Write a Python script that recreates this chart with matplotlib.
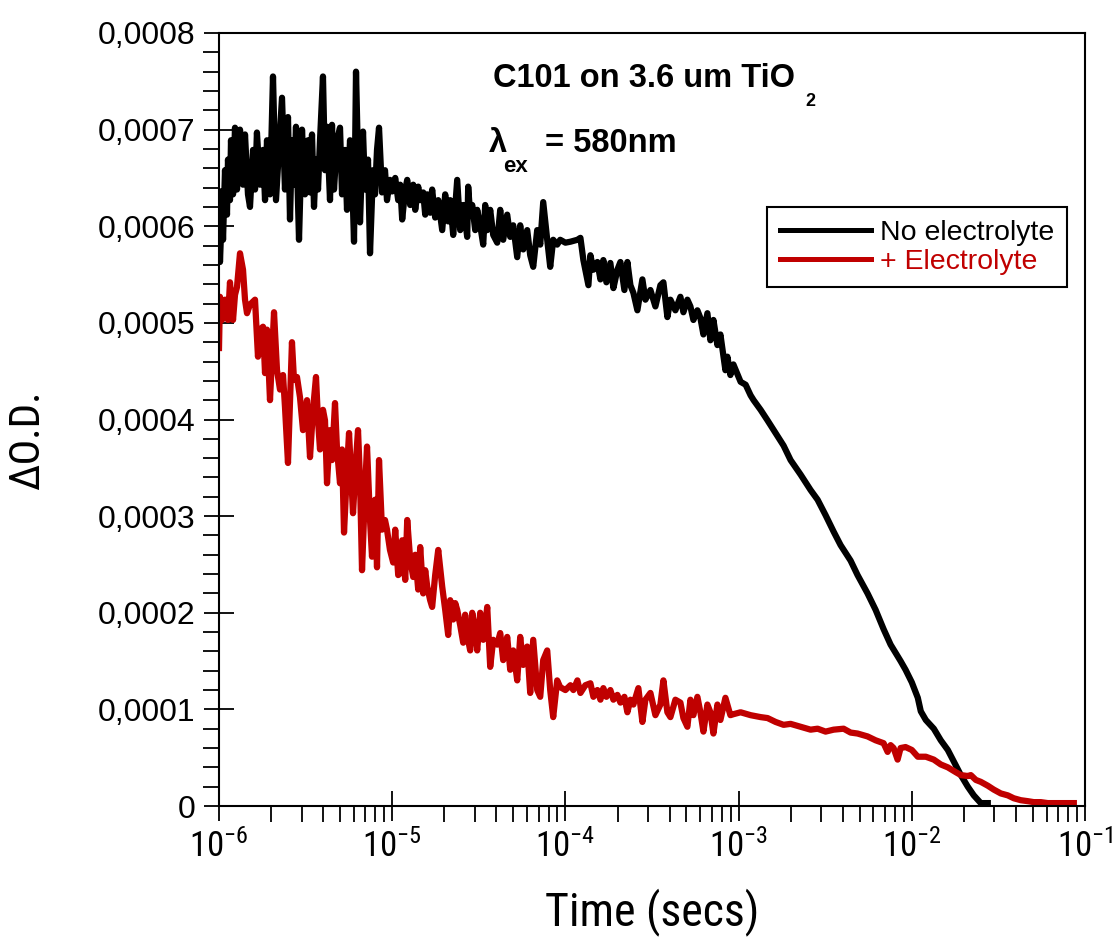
import numpy as np
import matplotlib
matplotlib.use("Agg")
import matplotlib.pyplot as plt
from matplotlib import font_manager
from matplotlib.ticker import MultipleLocator, LogLocator, NullFormatter, FuncFormatter

# --- data (time in s, dOD in units of 1e-4) ---
t_noel = [
    1.000e-6, 1.013e-6, 1.041e-6, 1.055e-6, 1.083e-6, 1.112e-6, 1.127e-6, 1.157e-6, 1.173e-6, 1.205e-6,
    1.237e-6, 1.270e-6, 1.322e-6, 1.376e-6, 1.413e-6, 1.470e-6, 1.510e-6, 1.572e-6, 1.614e-6, 1.656e-6,
    1.725e-6, 1.795e-6, 1.844e-6, 1.893e-6, 1.970e-6, 2.050e-6, 2.133e-6, 2.220e-6, 2.311e-6, 2.404e-6,
    2.502e-6, 2.570e-6, 2.638e-6, 2.710e-6, 2.783e-6, 2.897e-6, 3.015e-6, 3.137e-6, 3.265e-6, 3.353e-6,
    3.443e-6, 3.536e-6, 3.631e-6, 3.730e-6, 3.830e-6, 3.984e-6, 4.093e-6, 4.204e-6, 4.374e-6, 4.492e-6,
    4.613e-6, 4.801e-6, 4.997e-6, 5.132e-6, 5.340e-6, 5.484e-6, 5.708e-6, 5.862e-6, 6.019e-6, 6.181e-6,
    6.348e-6, 6.519e-6, 6.784e-6, 6.967e-6, 7.250e-6, 7.446e-6, 7.748e-6, 7.957e-6, 8.171e-6, 8.392e-6,
    8.733e-6, 9.086e-6, 9.331e-6, 9.708e-6, 1.000e-5,
    1.041e-5, 1.083e-5, 1.112e-5, 1.142e-5, 1.189e-5, 1.221e-5, 1.270e-5, 1.322e-5, 1.358e-5, 1.413e-5,
    1.451e-5, 1.510e-5, 1.551e-5, 1.593e-5, 1.656e-5, 1.701e-5, 1.771e-5, 1.844e-5, 1.944e-5, 2.023e-5,
    2.105e-5, 2.162e-5, 2.250e-5, 2.373e-5, 2.470e-5, 2.570e-5, 2.638e-5, 2.710e-5, 2.746e-5, 2.820e-5,
    2.897e-5, 3.015e-5, 3.096e-5, 3.222e-5, 3.353e-5, 3.443e-5, 3.537e-5, 3.680e-5, 3.830e-5, 4.039e-5,
    4.204e-5, 4.374e-5, 4.613e-5, 4.801e-5, 4.997e-5, 5.270e-5, 5.484e-5, 5.708e-5, 6.019e-5, 6.264e-5,
    6.519e-5, 6.874e-5, 7.155e-5, 7.446e-5, 7.852e-5, 8.171e-5, 8.503e-5, 8.966e-5, 9.331e-5, 1.000e-4,
    1.069e-4, 1.173e-4, 1.221e-4, 1.270e-4, 1.358e-4, 1.394e-4, 1.451e-4, 1.530e-4, 1.593e-4, 1.656e-4,
    1.725e-4, 1.818e-4, 1.893e-4, 1.996e-4, 2.078e-4, 2.191e-4, 2.280e-4, 2.373e-4, 2.470e-4, 2.604e-4,
    2.783e-4, 2.897e-4, 3.096e-4, 3.309e-4, 3.536e-4, 3.680e-4, 3.880e-4, 4.039e-4, 4.316e-4, 4.613e-4,
    4.801e-4, 5.062e-4, 5.270e-4, 5.484e-4, 5.782e-4, 6.019e-4, 6.264e-4, 6.605e-4, 6.874e-4, 7.155e-4,
    7.545e-4, 7.852e-4, 8.392e-4, 8.616e-4, 8.966e-4, 9.331e-4,
    1.027e-3, 1.098e-3, 1.173e-3, 1.221e-3, 1.340e-3, 1.470e-3, 1.635e-3, 1.818e-3, 1.996e-3, 2.280e-3,
    2.604e-3, 2.858e-3, 3.178e-3, 3.536e-3, 3.880e-3, 4.431e-3, 4.862e-3, 5.554e-3, 6.181e-3, 6.874e-3,
    7.545e-3, 8.616e-3, 9.204e-3,
    1.000e-2, 1.083e-2, 1.127e-2, 1.205e-2, 1.340e-2, 1.470e-2, 1.614e-2, 1.795e-2, 1.919e-2, 2.105e-2,
    2.280e-2, 2.502e-2, 2.746e-2,
]
od_noel = [
    6.36, 5.63, 6.22, 5.86, 6.58, 6.12, 6.69, 6.27, 6.89, 6.33,
    7.02, 6.38, 7.00, 6.43, 6.95, 6.33, 6.20, 6.79, 6.38, 6.97,
    6.43, 6.79, 6.27, 6.89, 6.33, 7.55, 6.27, 6.79, 7.33, 6.38,
    7.13, 6.07, 6.89, 6.43, 7.03, 5.86, 7.00, 6.33, 6.89, 6.35,
    6.95, 6.20, 6.69, 6.38, 6.89, 7.55, 6.58, 7.03, 6.27, 7.05,
    6.38, 6.89, 7.02, 6.33, 6.79, 6.17, 6.89, 6.53, 5.84, 7.60,
    6.69, 6.04, 6.98, 6.38, 6.69, 5.72, 6.58, 6.33, 6.79, 7.02,
    6.35, 6.58, 6.27, 6.48, 6.36,
    6.50, 6.27, 6.43, 6.07, 6.38, 6.48, 6.22, 6.43, 6.17, 6.41,
    6.27, 6.35, 6.12, 6.33, 6.14, 6.38, 6.09, 6.27, 5.96, 6.33,
    6.05, 6.27, 5.91, 6.48, 5.96, 6.22, 6.07, 5.89, 6.41, 6.12,
    6.22, 5.96, 6.17, 6.01, 5.81, 6.22, 5.96, 6.17, 5.91, 5.83,
    6.17, 5.86, 6.12, 5.89, 6.01, 5.68, 6.01, 5.76, 5.96, 5.70,
    5.58, 5.96, 5.81, 6.25, 5.86, 5.58, 5.86, 5.81, 5.86, 5.83,
    5.84, 5.86, 5.88, 5.65, 5.39, 5.70, 5.55, 5.63, 5.45, 5.65,
    5.42, 5.62, 5.36, 5.55, 5.63, 5.34, 5.63, 5.39, 5.31, 5.13,
    5.45, 5.24, 5.34, 5.17, 5.39, 5.42, 5.06, 5.24, 5.13, 5.27,
    5.11, 5.24, 5.17, 5.03, 5.13, 5.05, 4.88, 5.10, 4.82, 5.03,
    4.77, 4.88, 4.51, 4.65, 4.46, 4.57,
    4.39, 4.36, 4.25, 4.20, 4.10, 3.99, 3.86, 3.73, 3.58, 3.43,
    3.27, 3.17, 3.01, 2.84, 2.70, 2.54, 2.39, 2.20, 2.03, 1.83,
    1.67, 1.50, 1.41,
    1.28, 1.12, 0.98, 0.89, 0.80, 0.68, 0.58, 0.42, 0.32, 0.20,
    0.11, 0.03, 0.03,
]

t_el = [
    1.000e-6, 1.013e-6, 1.041e-6, 1.083e-6, 1.127e-6, 1.157e-6, 1.205e-6, 1.237e-6, 1.270e-6, 1.322e-6,
    1.376e-6, 1.413e-6, 1.451e-6, 1.510e-6, 1.614e-6, 1.679e-6, 1.725e-6, 1.795e-6, 1.844e-6, 1.893e-6,
    1.970e-6, 2.078e-6, 2.162e-6, 2.250e-6, 2.342e-6, 2.404e-6, 2.502e-6, 2.638e-6, 2.710e-6, 2.820e-6,
    2.935e-6, 3.055e-6, 3.222e-6, 3.353e-6, 3.490e-6, 3.631e-6, 3.730e-6, 3.830e-6, 3.984e-6, 4.093e-6,
    4.204e-6, 4.374e-6, 4.492e-6, 4.675e-6, 4.801e-6, 4.997e-6, 5.132e-6, 5.270e-6, 5.484e-6, 5.633e-6,
    5.940e-6, 6.181e-6, 6.348e-6, 6.519e-6, 6.695e-6, 6.967e-6, 7.155e-6, 7.446e-6, 7.646e-6, 7.957e-6,
    8.171e-6, 8.392e-6, 8.733e-6, 9.086e-6, 9.331e-6, 9.708e-6,
    1.013e-5, 1.041e-5, 1.083e-5, 1.112e-5, 1.142e-5, 1.189e-5, 1.221e-5, 1.270e-5, 1.322e-5, 1.358e-5,
    1.413e-5, 1.451e-5, 1.510e-5, 1.551e-5, 1.593e-5, 1.656e-5, 1.701e-5, 1.771e-5, 1.844e-5, 1.944e-5,
    2.023e-5, 2.105e-5, 2.162e-5, 2.250e-5, 2.311e-5, 2.373e-5, 2.470e-5, 2.570e-5, 2.638e-5, 2.710e-5,
    2.820e-5, 2.897e-5, 3.015e-5, 3.096e-5, 3.222e-5, 3.353e-5, 3.443e-5, 3.537e-5, 3.680e-5, 3.830e-5,
    4.039e-5, 4.204e-5, 4.374e-5, 4.613e-5, 4.801e-5, 4.997e-5, 5.270e-5, 5.484e-5, 5.708e-5, 6.019e-5,
    6.264e-5, 6.519e-5, 6.874e-5, 7.155e-5, 7.446e-5, 7.852e-5, 8.171e-5, 8.503e-5, 8.966e-5, 9.331e-5,
    1.000e-4, 1.069e-4, 1.112e-4, 1.173e-4, 1.221e-4, 1.304e-4, 1.394e-4, 1.451e-4, 1.530e-4, 1.593e-4,
    1.656e-4, 1.725e-4, 1.818e-4, 1.893e-4, 1.996e-4, 2.078e-4, 2.191e-4, 2.280e-4, 2.373e-4, 2.470e-4,
    2.638e-4, 2.783e-4, 2.897e-4, 3.096e-4, 3.309e-4, 3.536e-4, 3.680e-4, 3.880e-4, 4.039e-4, 4.316e-4,
    4.613e-4, 4.801e-4, 5.062e-4, 5.270e-4, 5.484e-4, 5.782e-4, 6.019e-4, 6.264e-4, 6.605e-4, 6.874e-4,
    7.155e-4, 7.545e-4, 7.852e-4, 8.392e-4, 8.966e-4, 9.331e-4,
    1.027e-3, 1.173e-3, 1.340e-3, 1.470e-3, 1.635e-3, 1.818e-3, 1.996e-3, 2.280e-3, 2.604e-3, 2.858e-3,
    3.178e-3, 3.536e-3, 4.039e-3, 4.431e-3, 4.862e-3, 5.554e-3, 6.181e-3, 6.874e-3, 7.250e-3, 7.545e-3,
    7.852e-3, 8.279e-3, 8.616e-3, 9.204e-3,
    1.000e-2, 1.083e-2, 1.205e-2, 1.340e-2, 1.470e-2, 1.614e-2, 1.795e-2, 1.919e-2, 2.105e-2, 2.191e-2,
    2.342e-2, 2.502e-2, 2.746e-2, 2.972e-2, 3.265e-2, 3.583e-2, 3.880e-2, 4.259e-2, 4.675e-2, 5.062e-2,
    5.554e-2, 6.099e-2, 6.784e-2, 7.250e-2, 7.957e-2, 8.616e-2,
]
od_el = [
    4.74, 5.27, 5.03, 5.24, 5.03, 5.42, 5.03, 5.29, 5.37, 5.72,
    5.55, 5.24, 5.10, 5.19, 5.24, 4.65, 4.93, 4.96, 4.48, 4.93,
    4.20, 5.11, 4.51, 4.31, 4.46, 4.13, 3.55, 4.80, 4.41, 4.44,
    4.23, 3.89, 4.20, 3.61, 4.10, 4.44, 3.99, 3.69, 4.10, 3.99,
    3.34, 3.89, 3.58, 4.17, 3.69, 3.34, 3.69, 2.83, 3.48, 3.86,
    3.03, 3.58, 3.89, 3.37, 2.44, 3.27, 3.72, 2.96, 2.58, 3.17,
    2.47, 3.58, 2.86, 2.96, 2.86, 2.65,
    2.52, 2.86, 2.39, 2.41, 2.75, 2.34, 2.96, 2.55, 2.37, 2.60,
    2.24, 2.68, 2.20, 2.44, 2.27, 2.13, 2.06, 2.39, 2.65, 2.27,
    2.03, 1.77, 2.13, 1.93, 2.10, 2.03, 1.87, 1.69, 1.98, 1.77,
    1.61, 2.00, 1.82, 1.61, 2.00, 1.72, 1.87, 2.06, 1.44, 1.72,
    1.67, 1.79, 1.51, 1.75, 1.41, 1.61, 1.30, 1.75, 1.46, 1.65,
    1.17, 1.72, 1.20, 1.13, 1.51, 1.61, 1.20, 0.92, 1.30, 1.23,
    1.20, 1.25, 1.20, 1.30, 1.17, 1.25, 1.27, 1.13, 1.20, 1.10,
    1.22, 1.13, 1.20, 1.10, 1.15, 1.07, 1.13, 0.97, 1.10, 1.05,
    1.22, 0.87, 1.10, 1.17, 0.94, 1.05, 1.30, 0.97, 0.92, 1.10,
    1.07, 0.91, 0.82, 1.10, 0.94, 1.13, 0.97, 0.77, 1.05, 0.97,
    0.75, 1.05, 0.89, 1.12, 0.94, 0.95,
    0.97, 0.94, 0.92, 0.91, 0.87, 0.84, 0.85, 0.82, 0.79, 0.80,
    0.77, 0.79, 0.80, 0.76, 0.75, 0.72, 0.68, 0.65, 0.56, 0.63,
    0.60, 0.48, 0.60, 0.61,
    0.58, 0.51, 0.51, 0.48, 0.43, 0.40, 0.35, 0.32, 0.31, 0.32,
    0.27, 0.25, 0.21, 0.17, 0.13, 0.11, 0.08, 0.06, 0.05, 0.04,
    0.04, 0.03, 0.03, 0.03, 0.03, 0.03,
]

x_major = [1e-6, 1e-5, 1e-4, 1e-3, 1e-2, 1e-1]
x_labels = ["$10^{-6}$", "$10^{-5}$", "$10^{-4}$", "$10^{-3}$", "$10^{-2}$", "$10^{-1}$"]
series_labels = ["No electrolyte", "+ Electrolyte"]
RED = "#C00000"

# a narrow sans face for the axis labels, like the original's Arial Narrow
names = {f.name for f in font_manager.fontManager.ttflist}
NARROW = None
for cand in ["Liberation Sans Narrow", "Arial Narrow", "Roboto Condensed",
             "Archivo Narrow", "PT Sans Narrow", "Barlow Semi Condensed"]:
    if cand in names:
        NARROW = cand
        break
if NARROW is None:
    NARROW, tick_fs, xlab_fs, ylab_fs = "Liberation Sans", 21, 27, 26
else:
    tick_fs, xlab_fs, ylab_fs = 25, 33, 31

plt.rcParams["font.family"] = ["Liberation Sans", "DejaVu Sans"]
plt.rcParams["mathtext.fontset"] = "custom"
plt.rcParams["mathtext.rm"] = NARROW
plt.rcParams["mathtext.it"] = NARROW
plt.rcParams["mathtext.bf"] = NARROW

W, H = 1114, 940
fig = plt.figure(figsize=(W / 100, H / 100), dpi=100)
ax = fig.add_axes([219 / W, (H - 806) / H, 866 / W, 773 / H])

ax.plot(t_noel, np.array(od_noel) * 1e-4, color="black", lw=4.5, label=series_labels[0])
ax.plot(t_el, np.array(od_el) * 1e-4, color=RED, lw=4.5, label=series_labels[1])

ax.set_xscale("log")
ax.set_xlim(1e-6, 1e-1)
ax.set_ylim(0, 8e-4)

ax.set_xticks(x_major)
ax.set_xticklabels(x_labels, fontsize=tick_fs)
ax.xaxis.set_minor_locator(LogLocator(base=10, subs=np.arange(2, 10)))
ax.xaxis.set_minor_formatter(NullFormatter())

ax.yaxis.set_major_locator(MultipleLocator(1e-4))
ax.yaxis.set_minor_locator(MultipleLocator(2e-5))
ax.yaxis.set_major_formatter(FuncFormatter(
    lambda v, pos: "0" if abs(v) < 1e-12 else f"{v:.4f}".replace(".", ",")))

ax.tick_params(which="major", direction="inout", length=22, width=1.3, pad=6)
ax.tick_params(which="minor", direction="out", length=11.5, width=1.3)
ax.tick_params(axis="y", which="major", labelsize=23)
for sp in ax.spines.values():
    sp.set_linewidth(1.5)

ax.set_xlabel("Time (secs)", fontsize=xlab_fs, family=NARROW, va="top")
ax.xaxis.set_label_coords(0.5, -0.106)
ax.set_ylabel("ΔO.D.", fontsize=ylab_fs, family=[NARROW, "Liberation Sans"])
ax.yaxis.set_label_coords(-0.197, 0.4735)

leg = ax.legend(loc="upper right", bbox_to_anchor=(0.979, 0.775), borderaxespad=0,
                fontsize=20.5, fancybox=False, edgecolor="black", framealpha=1,
                handlelength=3.2, handletextpad=0.3, labelspacing=0.1, borderpad=0.45,
                labelcolor="linecolor")
leg.get_frame().set_linewidth(1.5)
for ln in leg.get_lines():
    ln.set_linewidth(3.6)

# annotation text, placed in figure pixels
def ftext(x, y, s, size):
    fig.text(x / W, 1 - y / H, s, fontsize=size, weight="bold", ha="left", va="baseline")

ftext(493, 87, "C101 on 3.6 um TiO", 23.5)
ftext(805, 106, "2", 13)
ftext(489, 152, "λ", 23.5)
ftext(503, 172, "ex", 16)
ftext(545, 152, "= 580nm", 23.5)

fig.savefig("out.png", dpi=100)
